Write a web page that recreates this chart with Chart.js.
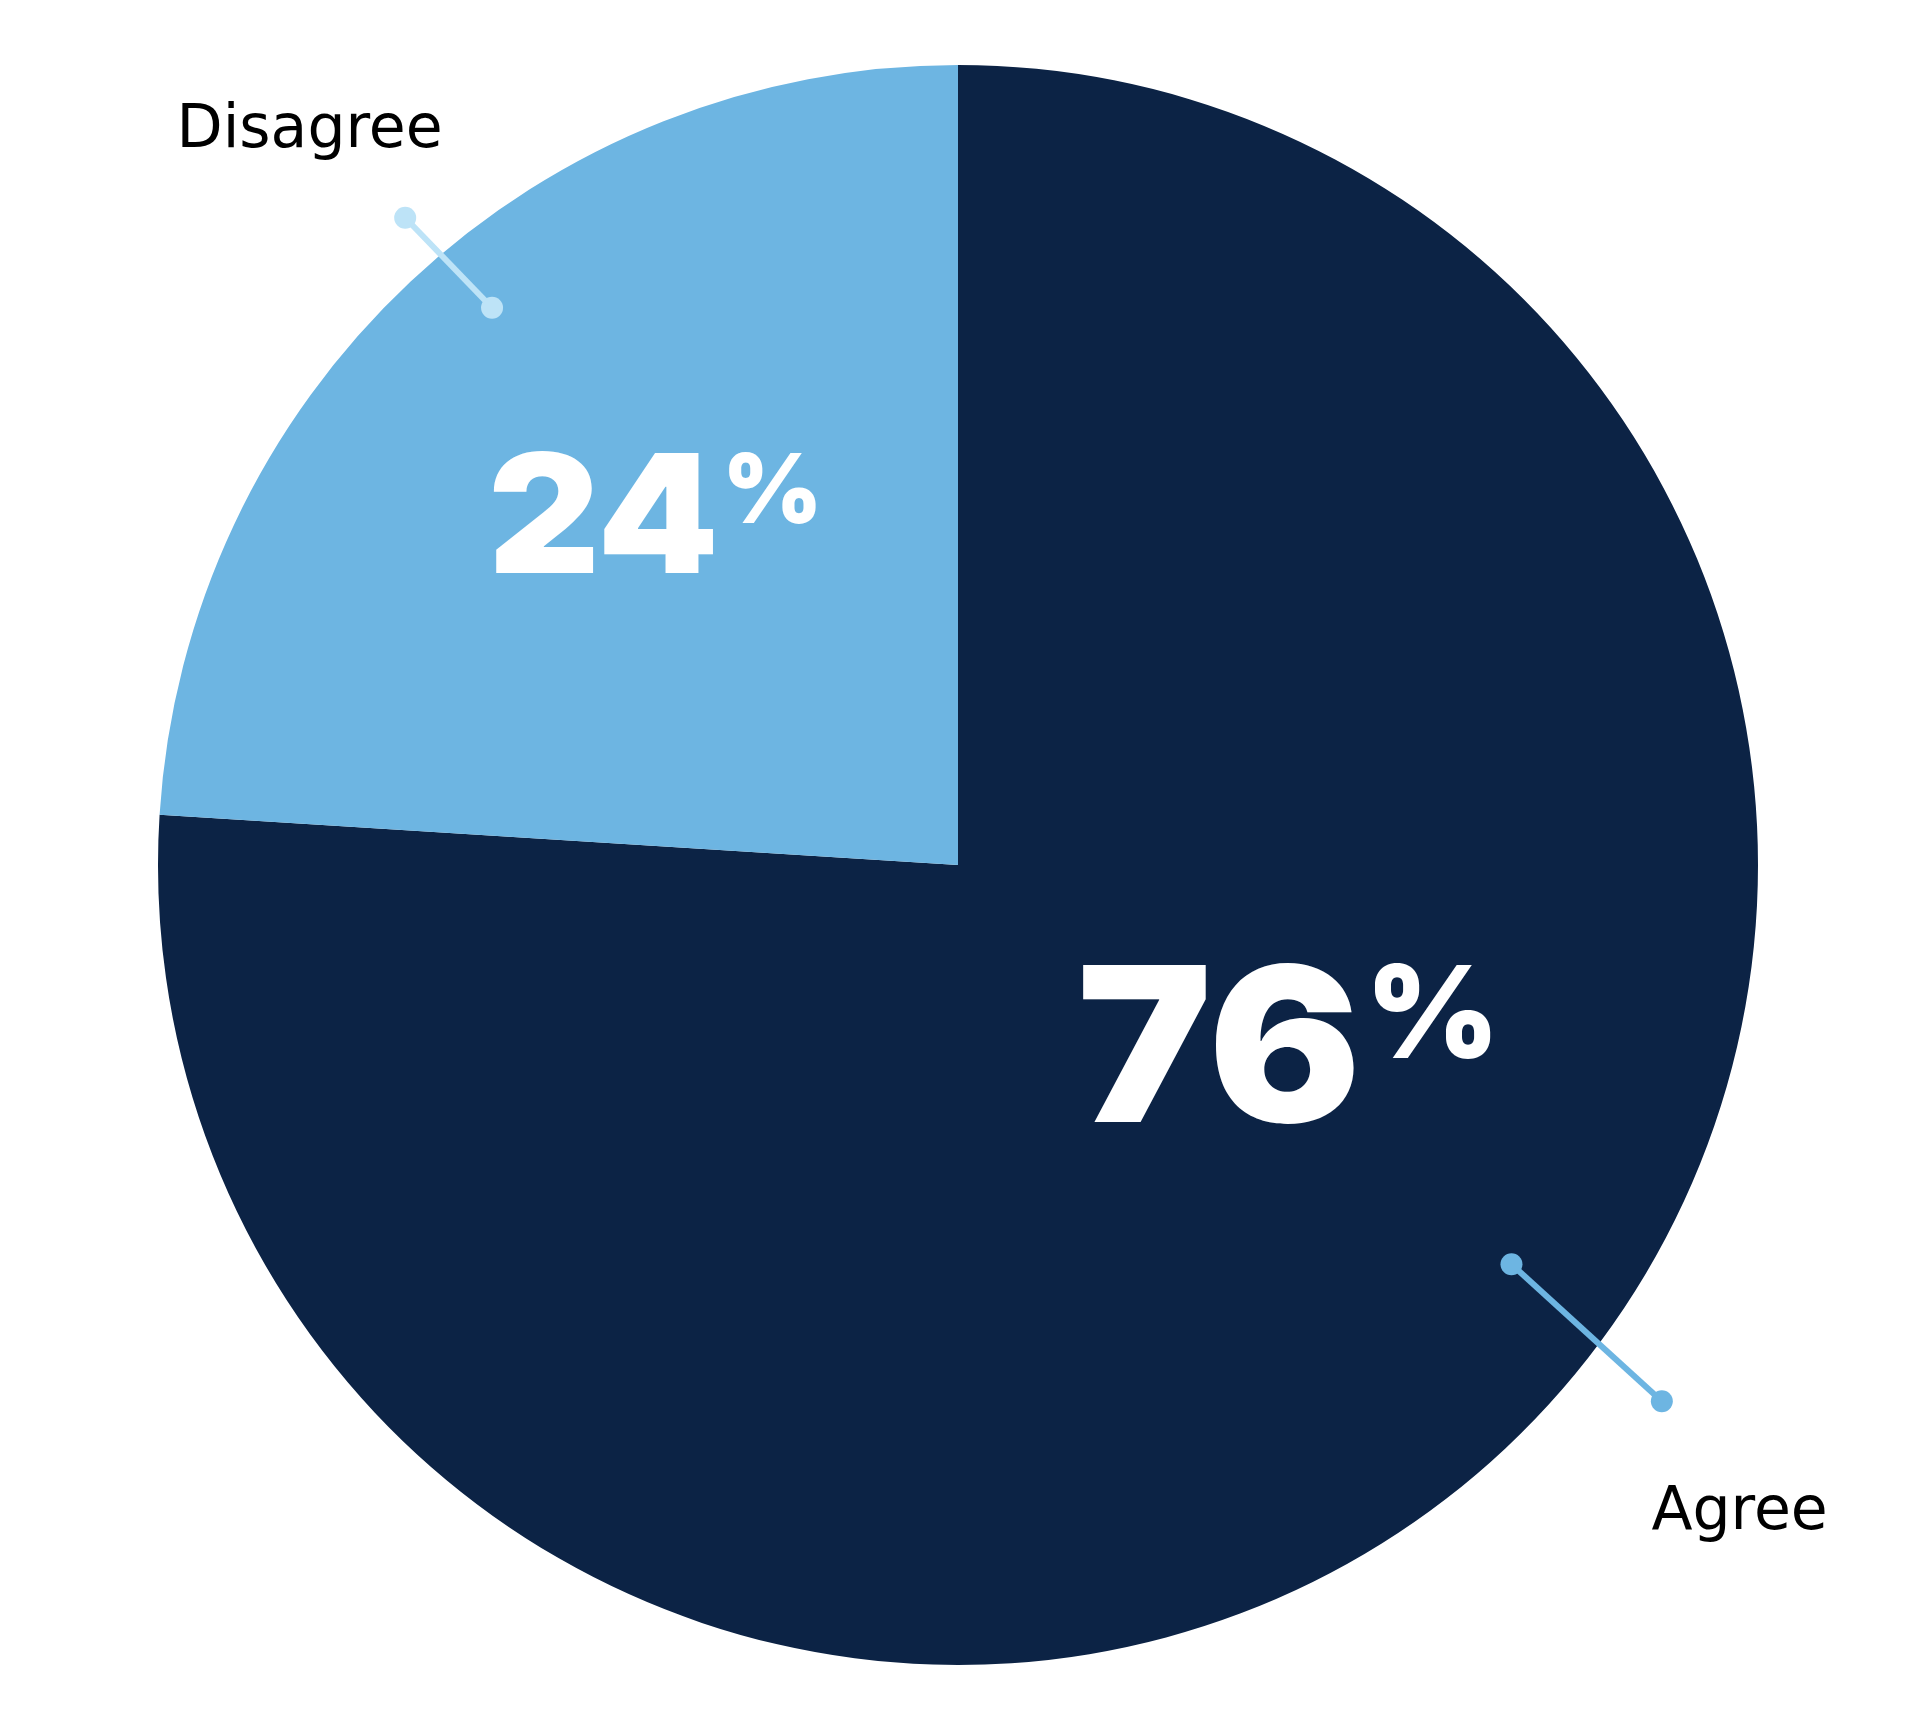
<!DOCTYPE html>
<html>
<head>
<meta charset="utf-8">
<title>Agree / Disagree</title>
<script src="https://cdn.jsdelivr.net/npm/chart.js@4.4.1/dist/chart.umd.min.js"></script>
<style>
  html, body { margin: 0; padding: 0; background: #fff; }
  #wrap { width: 1920px; height: 1716px; position: relative; }
</style>
</head>
<body>
<div id="wrap"><canvas id="pieChart"></canvas></div>
<script>
const categories = ['Agree', 'Disagree'];
const shares = [76, 24];
const sliceColors = ['#0c2345', '#6db5e2'];
const connectorColors = ['#6db5e2', '#bde3f7'];

// where each slice's texts and pointer sit, in polar terms around the pie
// (angle in degrees clockwise from 3 o'clock, radius as fraction of the pie radius)
const valueSpots = [
  { angle: 37.9, r: 0.523, size: 216, pctSize: 128 },
  { angle: 224.0, r: 0.526, size: 165, pctSize: 96 }
];
const pointerSpots = [
  { a1: 35.8, r1: 0.853, a2: 37.3, r2: 1.106 },
  { a1: 230.1, r1: 0.908, a2: 229.5, r2: 1.064 }
];
const nameSpots = [
  { angle: 40.35, r: 1.282 },
  { angle: 227.9, r: 1.209 }
];

function polar(cx, cy, radius, deg, frac) {
  const t = deg * Math.PI / 180;
  return { x: cx + Math.cos(t) * radius * frac, y: cy + Math.sin(t) * radius * frac };
}

const pieLabels = {
  id: 'pieLabels',
  afterDraw(chart) {
    const ctx = chart.ctx;
    const arcs = chart.getDatasetMeta(0).data;
    if (!arcs.length) return;
    const cx = arcs[0].x, cy = arcs[0].y, R = arcs[0].outerRadius;

    ctx.save();
    arcs.forEach((arc, i) => {
      // pointer line with round ends
      const pp = pointerSpots[i];
      const p1 = polar(cx, cy, R, pp.a1, pp.r1);
      const p2 = polar(cx, cy, R, pp.a2, pp.r2);
      ctx.strokeStyle = connectorColors[i];
      ctx.fillStyle = connectorColors[i];
      ctx.lineWidth = 6;
      ctx.beginPath();
      ctx.moveTo(p1.x, p1.y);
      ctx.lineTo(p2.x, p2.y);
      ctx.stroke();
      [p1, p2].forEach(p => {
        ctx.beginPath();
        ctx.arc(p.x, p.y, 11, 0, Math.PI * 2);
        ctx.fill();
      });

      // category name
      const ns = nameSpots[i];
      const np = polar(cx, cy, R, ns.angle, ns.r);
      ctx.fillStyle = '#000';
      ctx.font = '60px "DejaVu Sans"';
      ctx.textAlign = 'center';
      ctx.textBaseline = 'alphabetic';
      ctx.fillText(categories[i], np.x, np.y);

      // big value (slightly widened) with small raised percent sign
      const vs = valueSpots[i];
      const vp = polar(cx, cy, R, vs.angle, vs.r);
      const num = String(shares[i]);
      const stretch = 1.05;
      ctx.font = '900 ' + vs.size + 'px Inter';
      const numW = ctx.measureText(num).width * stretch;
      ctx.font = '900 ' + vs.pctSize + 'px Inter';
      const pctW = ctx.measureText('%').width;
      const gap = vs.size * 0.02;
      const left = vp.x - (numW + gap + pctW) / 2;
      ctx.fillStyle = '#fff';
      ctx.textAlign = 'left';
      ctx.save();
      ctx.translate(left, vp.y);
      ctx.scale(stretch, 1);
      ctx.font = '900 ' + vs.size + 'px Inter';
      ctx.fillText(num, 0, 0);
      ctx.restore();
      const capTop = vp.y - vs.size * 0.727;
      ctx.font = '900 ' + vs.pctSize + 'px Inter';
      ctx.fillText('%', left + numW + gap, capTop + vs.pctSize * 0.727);
    });
    ctx.restore();
  }
};

new Chart(document.getElementById('pieChart'), {
  type: 'pie',
  data: {
    labels: categories,
    datasets: [{
      data: shares,
      backgroundColor: sliceColors,
      borderWidth: 0
    }]
  },
  options: {
    responsive: true,
    maintainAspectRatio: false,
    animation: false,
    layout: { padding: { left: 158, right: 162, top: 65, bottom: 51 } },
    plugins: {
      legend: { display: false },
      tooltip: { enabled: false }
    }
  },
  plugins: [pieLabels]
});
</script>
</body>
</html>
